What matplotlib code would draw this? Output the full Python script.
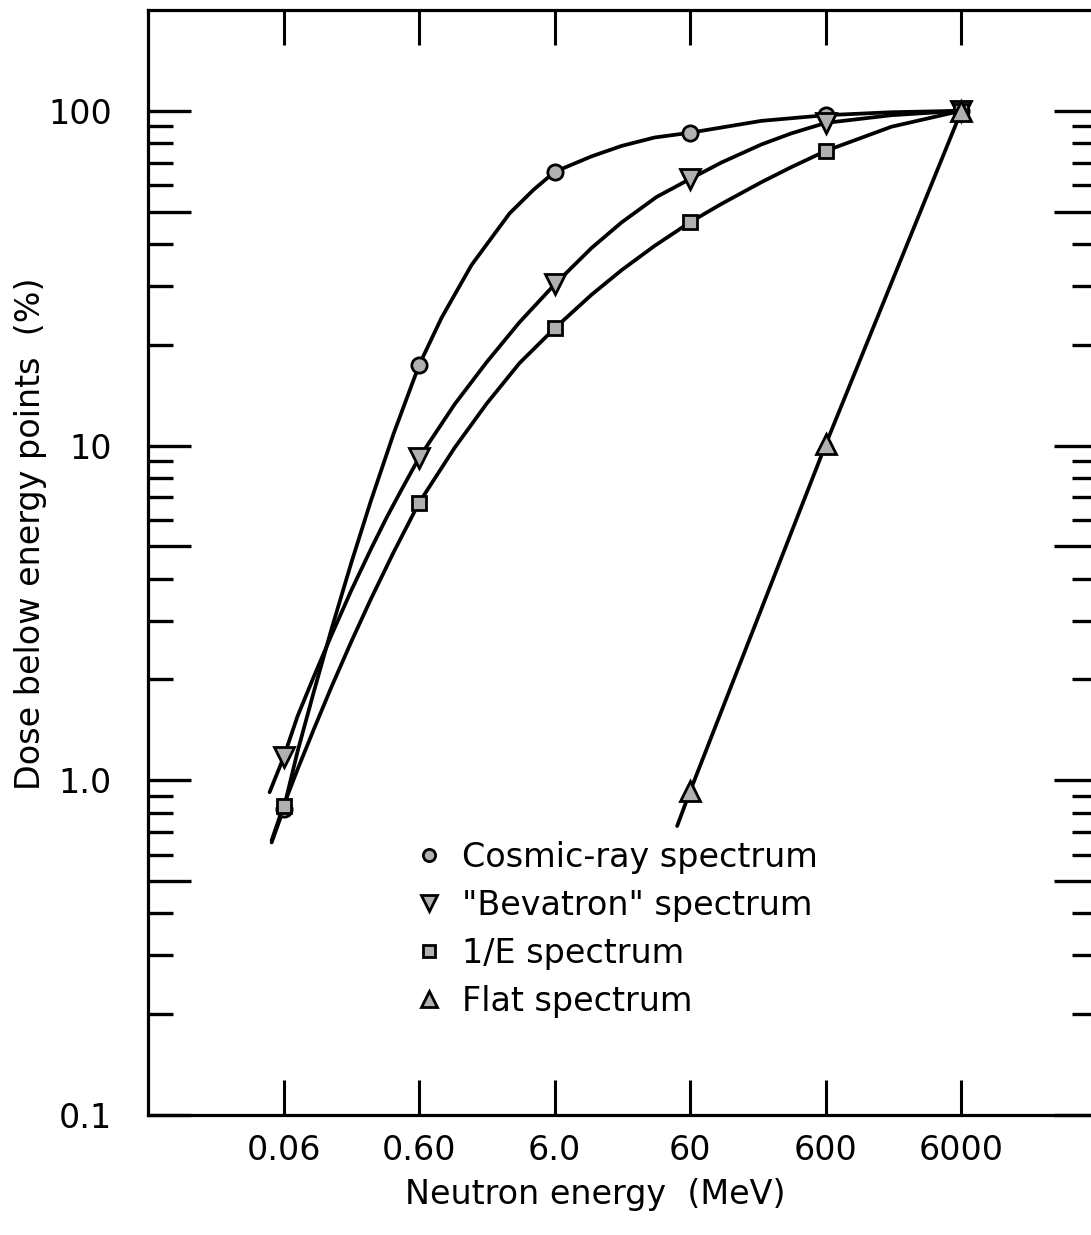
import matplotlib
matplotlib.use("Agg")
import matplotlib.pyplot as plt
from matplotlib.ticker import FixedLocator, FixedFormatter, NullLocator

# measured points (MeV, % of dose)
energy = [0.06, 0.6, 6, 60, 600, 6000]
cosmic = [0.82, 17.4, 65.7, 86, 97, 100]
bevatron = [1.17, 9.2, 30.3, 62.6, 92, 100]
inv_e = [0.84, 6.75, 22.4, 46.5, 75.9, 100]
flat_energy = [60, 600, 6000]
flat = [0.93, 10.1, 100]

# hand drawn curves
cosmic_line_x = [0.049, 0.06, 0.0761, 0.1, 0.1356, 0.1904, 0.263, 0.3886, 0.6, 0.878, 1.461,
                 2.785, 4.186, 6, 11.2, 18.66, 32.68, 60, 201, 600, 1828, 6000]
cosmic_line_y = [0.652, 0.82, 1.219, 1.83, 2.834, 4.491, 6.79, 10.84, 17.4, 24.08, 34.61,
                 49.34, 58.08, 65.7, 73.07, 78.51, 83.19, 86, 93.3, 97, 99, 100]
bevatron_line_x = [0.0473, 0.06, 0.0761, 0.1, 0.1356, 0.1904, 0.2675, 0.345, 0.4451, 0.6,
                   1.095, 1.884, 3.301, 6, 11.2, 18.66, 33.8, 60, 101.9, 201, 334.6, 600,
                   1828, 6000]
bevatron_line_y = [0.921, 1.17, 1.554, 2.034, 2.718, 3.706, 4.95, 6.087, 7.383, 9.2,
                   13.27, 17.72, 23.35, 30.3, 38.89, 46.38, 55.26, 62.6, 70.06, 79.33, 85.63, 92,
                   97, 100]
inv_e_line_x = [0.049, 0.06, 0.0761, 0.1, 0.1356, 0.1904, 0.263, 0.3886, 0.6, 1.095, 1.884,
                3.301, 6, 11.2, 18.66, 32.68, 60, 101.9, 201, 334.6, 600, 1828, 6000]
inv_e_line_y = [0.661, 0.84, 1.078, 1.416, 1.904, 2.605, 3.463, 4.796, 6.75, 9.84, 13.32,
                17.63, 22.4, 28.2, 33.4, 39.47, 46.5, 52.7, 61.2, 67.9, 75.9, 89.6, 100]
flat_line_x = [48, 60, 600, 6000]
flat_line_y = [0.73, 0.93, 10.1, 100]

x_ticks = [0.06, 0.6, 6, 60, 600, 6000]
x_labels = ['0.06', '0.60', '6.0', '60', '600', '6000']
y_ticks = [0.1, 0.5, 1, 5, 10, 50, 100]
y_labels = ['0.1', '', '1.0', '', '10', '', '100']
y_minor = [0.2, 0.3, 0.4, 0.6, 0.7, 0.8, 0.9,
           2, 3, 4, 6, 7, 8, 9,
           20, 30, 40, 60, 70, 80, 90]

plt.rcParams['font.family'] = ['DejaVu Sans']

fig = plt.figure(figsize=(10.91, 12.35), dpi=100)
ax = fig.add_axes([148 / 1091, 120 / 1235, 949 / 1091, 1105 / 1235])

ax.set_xscale('log')
ax.set_yscale('log')
ax.set_xlim(0.006, 60000)
ax.set_ylim(0.1, 200)

lw = 2.7
for lx, ly in [(cosmic_line_x, cosmic_line_y), (bevatron_line_x, bevatron_line_y),
               (inv_e_line_x, inv_e_line_y), (flat_line_x, flat_line_y)]:
    ax.plot(lx, ly, color='black', lw=lw, solid_joinstyle='round', solid_capstyle='round')

mk = dict(linestyle='none', markerfacecolor='#b0b0b0', markeredgecolor='black',
          markeredgewidth=2, zorder=3)
ax.plot(energy, cosmic, marker='o', markersize=11, label='Cosmic-ray spectrum', **mk)
ax.plot(energy, bevatron, marker='v', markersize=15, label='"Bevatron" spectrum', **mk)
ax.plot(energy, inv_e, marker='s', markersize=10.5, label='1/E spectrum', **mk)
ax.plot(flat_energy, flat, marker='^', markersize=15, label='Flat spectrum', **mk)

ax.xaxis.set_major_locator(FixedLocator(x_ticks))
ax.xaxis.set_major_formatter(FixedFormatter(x_labels))
ax.xaxis.set_minor_locator(NullLocator())
ax.yaxis.set_major_locator(FixedLocator(y_ticks))
ax.yaxis.set_major_formatter(FixedFormatter(y_labels))
ax.yaxis.set_minor_locator(FixedLocator(y_minor))

ax.tick_params(axis='x', which='major', direction='in', length=25, width=2.2,
               top=True, bottom=True, labelsize=24, pad=14)
ax.tick_params(axis='y', which='major', direction='in', length=31, width=2.4,
               left=True, right=True, labelsize=24, pad=26)
ax.tick_params(axis='y', which='minor', direction='in', length=18, width=2.4,
               left=True, right=True)

for s in ax.spines.values():
    s.set_linewidth(2.3)

ax.set_xlabel('Neutron energy  (MeV)', fontsize=24)
ax.set_ylabel('Dose below energy points  (%)', fontsize=24)
ax.xaxis.set_label_coords(0.471, -0.072)
ax.xaxis.label.set_va('center')
ax.yaxis.set_label_coords(-0.124, 0.526)
ax.yaxis.label.set_va('center')

ax.legend(loc='upper left', bbox_to_anchor=(0.268, 0.26), frameon=False,
          fontsize=24, handlelength=0.8, handletextpad=0.6, labelspacing=0.45,
          borderaxespad=0, markerscale=0.8)

fig.savefig('out.png', dpi=100)
